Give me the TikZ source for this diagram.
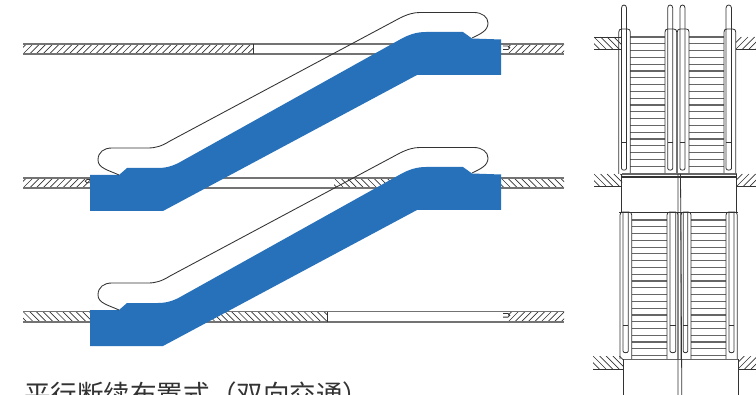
\documentclass[tikz,border=0pt]{standalone}
\usepackage{fontspec}
\newfontfamily\cjkfont{Noto Sans CJK SC}
\definecolor{escblue}{HTML}{2771BA}
\definecolor{inkc}{HTML}{333333}
\tikzset{
  slab/.style={draw=black!55,line width=0.85pt},
  thin line/.style={draw=inkc,line width=0.6pt},
  rail/.style={draw=inkc,line width=0.65pt},
  stepline/.style={draw=black!60,line width=0.9pt},
  hatchline/.style={draw=inkc,line width=0.5pt},
}
\newcommand{\hatchF}[4]{\begin{scope}\clip (#1,#3) rectangle (#2,#4);
  \foreach \k in {-3,...,60}{\pgfmathsetmacro{\xa}{#1+\k*6.6}\pgfmathsetmacro{\xb}{\xa+#4-#3}
  \draw[hatchline] (\xa,#4) -- (\xb,#3);}\end{scope}}
\newcommand{\hatchB}[4]{\begin{scope}\clip (#1,#3) rectangle (#2,#4);
  \foreach \k in {-3,...,60}{\pgfmathsetmacro{\xa}{#1+\k*6.6}\pgfmathsetmacro{\xb}{\xa+#4-#3}
  \draw[hatchline] (\xa,#3) -- (\xb,#4);}\end{scope}}
\newcommand{\escalator}[1]{\begin{scope}[yshift=#1*-0.75pt]
  \fill[escblue] (90,175) -- (119,175) -- (127,168) -- (158,168)
    .. controls (168,168) and (175,165) .. (182,161) -- (400,39.5)
    .. controls (408,35) and (416,32) .. (426,32) -- (463,32) -- (472,38.5) -- (501,39.5)
    -- (501,75) -- (417,75) -- (163,211) -- (90,211) -- cycle;
  \draw[rail] (119,175) .. controls (108,170) and (98,168) .. (98,160)
    .. controls (98,152) and (104,148) .. (112,148) -- (148,148)
    .. controls (156,148) and (162,146) .. (170,141) -- (400,18)
    .. controls (408,14) and (414,12.5) .. (420,12.5) -- (474,12.5)
    .. controls (482,12.5) and (488,17) .. (488,23)
    .. controls (488,31) and (480,34) .. (472,38);
\end{scope}}
\newcommand{\railunit}[9]{
  \draw[thin line] (#1,#6) -- (#1,#5+3) .. controls (#1,#5+1) and (#1+1,#5) .. (#1+3,#5) -- (#4-3,#5) .. controls (#4-1,#5) and (#4,#5+1) .. (#4,#5+3) -- (#4,#6);
  \draw[thin line] (#2,#5) -- (#2,#8-2.3) .. controls (#2,#8) and (#3,#8) .. (#3,#8-2.3) -- (#3,#5);
  \draw[thin line] (#2,#9) -- (#3,#9);
}
\begin{document}
\begin{tikzpicture}[x=0.75pt,y=-0.75pt]
\useasboundingbox (0,0) rectangle (756,395);
\clip (0,0) rectangle (756,395);
% slabs, left view
\hatchF{23}{253}{44}{54}
\hatchF{508}{564}{44}{54}
\hatchF{23}{90}{178}{188}
\hatchB{334}{410}{178}{188}
\hatchB{501}{564}{178}{188}
\hatchB{23}{90}{311.5}{322}
\hatchB{205}{327.5}{311.5}{322}
\hatchF{508}{564}{311.5}{322}
\draw[slab] (23,44) -- (564,44) (23,54) -- (564,54);
\draw[slab] (23,178) -- (564,178) (23,188) -- (564,188);
\draw[slab] (23,311.5) -- (564,311.5) (23,322) -- (564,322);
\draw[thin line] (253.5,44) -- (253.5,54) (327.5,311.5) -- (327.5,322);
\draw[thin line] (503,46) -- (508,46) .. controls (510.5,46) and (510.5,49.6) .. (508,49.6) -- (503,49.6);
\draw[thin line] (503,313.5) -- (508,313.5) .. controls (510.5,313.5) and (510.5,317.1) .. (508,317.1) -- (503,317.1);
\draw[thin line] (90,179.5) -- (87,179.5) .. controls (84.5,179.5) and (84.5,182.8) .. (87,182.8) -- (90,182.8);
\escalator{0}
\escalator{135}
% caption
\node[anchor=base west,inner sep=0pt,text=inkc,font=\cjkfont\fontsize{19.9pt}{22pt}\selectfont] (caption) at (24,404.5) {平行断续布置式（双向交通）};
% plan view: floor hatches
\hatchB{594}{621}{37}{49}
\hatchF{736}{756}{37}{49}
\hatchB{594}{622}{174}{186}
\hatchF{737}{756}{174}{186}
\hatchB{593}{623}{356}{369}
\hatchF{738}{756}{356}{369}
\draw[thin line] (594,37) -- (621,37) (594,49) -- (621,49) (736,49) -- (756,49);
\draw[thin line] (594,186) -- (622,186) (737,186) -- (756,186);
\draw[thin line] (593,369) -- (623,369) (738,369) -- (756,369);
% steps upper
\foreach \k in {0,...,19}{\pgfmathsetmacro{\yy}{37+\k*6.8}
  \draw[stepline] (630,\yy) -- (665,\yy) (689,\yy) -- (724,\yy);}
% steps lower
\foreach \k in {0,...,19}{\pgfmathsetmacro{\yy}{220+\k*6.78}
  \draw[stepline] (631.5,\yy) -- (667,\yy) (690.5,\yy) -- (726,\yy);}
\draw[stepline] (631.5,355.7) -- (667,355.7) (690.5,355.7) -- (726,355.7);
% upper handrail posts
\foreach \a/\b in {621.5/626.5,667.7/672.7,680/685,726/731.5}{
  \draw[thin line] (\a,29) -- (\a,8) .. controls (\a,4) and (\b,4) .. (\b,8) -- (\b,29);}
% rail units upper
\railunit{618.8}{621.5}{626.5}{630.3}{29}{174}{29}{170.7}{142.7}
\railunit{665}{667.7}{672.7}{676.7}{29}{174}{29}{170.7}{142.7}
\railunit{677.3}{680}{685}{689}{29}{174}{29}{170.7}{142.7}
\railunit{724}{726}{731.5}{735.7}{29}{174}{29}{170.7}{142.7}
% rail units lower
\railunit{620}{623}{628.3}{631.7}{212}{359}{212}{353.3}{325}
\railunit{667}{670}{675.7}{678}{212}{359}{212}{353.3}{325}
\railunit{681}{683.2}{687.7}{691}{212}{359}{212}{353.3}{325}
\railunit{726}{729}{734}{737.3}{212}{359}{212}{353.3}{325}
% landings
\draw[stepline] (622,174) -- (736.5,174);
\draw[thin line,line width=0.8pt] (621.7,177) -- (736.7,177);
\draw[thin line] (621.7,174) -- (621.7,212) (736.7,174) -- (736.7,212);
\draw[thin line] (619,212.3) -- (738,212.3);
\draw[stepline] (622.5,359.3) -- (737.5,359.3);
\draw[thin line] (623,359) -- (623,395) (738,359) -- (738,395);
% centre double line
\draw[thin line] (678,174) -- (678,395) (680.5,174) -- (681.8,395);
\end{tikzpicture}
\end{document}
